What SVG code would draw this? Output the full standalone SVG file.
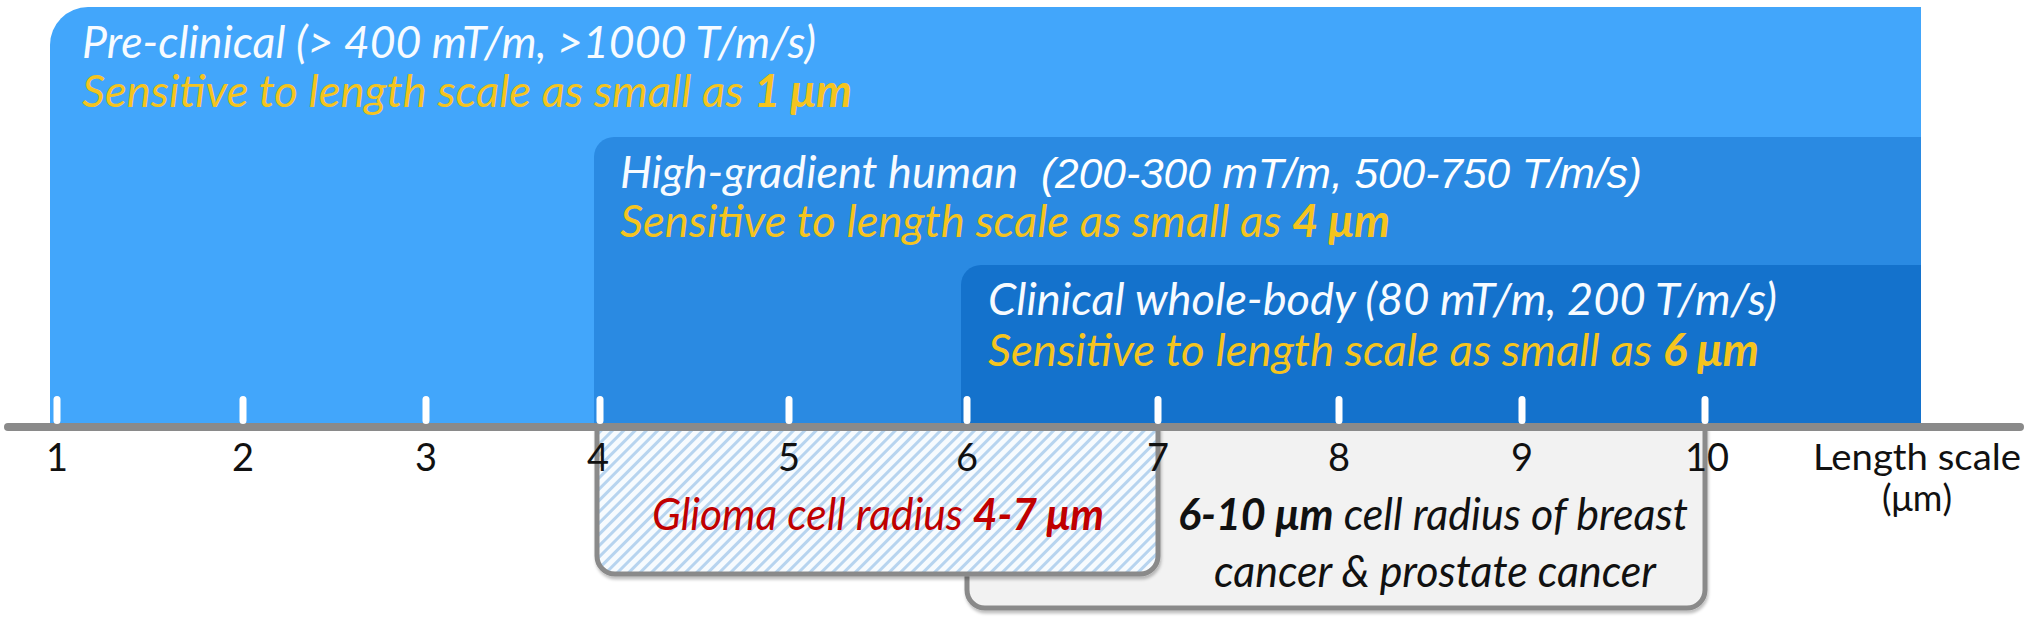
<svg xmlns="http://www.w3.org/2000/svg" width="2040" height="622" viewBox="0 0 2040 622">
  <defs>
    <pattern id="hatch" patternUnits="userSpaceOnUse" width="8" height="8" patternTransform="rotate(45)">
      <rect width="8" height="8" fill="#f7fbfe"/>
      <rect x="0" y="0" width="3" height="8" fill="#b7d4ef"/>
    </pattern>
    <filter id="sh" x="-5%" y="-5%" width="110%" height="115%">
      <feDropShadow dx="1" dy="3" stdDeviation="1.5" flood-color="#000" flood-opacity="0.25"/>
    </filter>
  </defs>
  <style>
    .gw { font-family: Lato, "Liberation Sans", sans-serif; font-style: italic; font-size: 45px; fill: #f7fbff; }
    .gy { font-family: Lato, "Liberation Sans", sans-serif; font-style: italic; font-size: 45px; fill: #f5c41e; }
    .ar { font-family: "Liberation Sans", Arial, sans-serif; font-style: italic; font-size: 42px; fill: #ffffff; }
    .b { font-weight: bold; }
    .num { font-family: Lato, "Liberation Sans", sans-serif; font-size: 38px; fill: #111; text-anchor: middle; }
    .lab { font-family: Lato, "Liberation Sans", sans-serif; font-size: 36px; fill: #111; text-anchor: middle; }
    .tick { fill: #ffffff; }
    .box { stroke: #8a8a8a; stroke-width: 5; }
    .red { font-family: Lato, "Liberation Sans", sans-serif; font-style: italic; font-size: 44px; fill: #c00000; }
    .blk { font-family: Lato, "Liberation Sans", sans-serif; font-style: italic; font-size: 44px; fill: #111; text-anchor: middle; }
  </style>

  <g id="preclinical">
    <path d="M50,424 V45 A38,38 0 0 1 88,7 H1921 V424 Z" fill="#42a6fb"/>
    <text class="gw" x="82" y="58" textLength="734" lengthAdjust="spacingAndGlyphs">Pre-clinical (&gt; 400 mT/m, &gt;1000 T/m/s)</text>
    <text class="gy" x="82" y="107" textLength="770" lengthAdjust="spacingAndGlyphs">Sensitive to length scale as small as <tspan class="b">1 μm</tspan></text>
  </g>

  <g id="highgradient">
    <path d="M594,424 V157 A20,20 0 0 1 614,137 H1921 V424 Z" fill="#2a8ae2"/>
    <text class="gw" x="620" y="188" textLength="398" lengthAdjust="spacingAndGlyphs">High-gradient human</text>
    <text class="ar" x="1041" y="188" textLength="601" lengthAdjust="spacingAndGlyphs">(200-300 mT/m, 500-750 T/m/s)</text>
    <text class="gy" x="620" y="237" textLength="770" lengthAdjust="spacingAndGlyphs">Sensitive to length scale as small as <tspan class="b">4 μm</tspan></text>
  </g>

  <g id="clinical">
    <path d="M961,424 V285 A20,20 0 0 1 981,265 H1921 V424 Z" fill="#1472cc"/>
    <text class="gw" x="988" y="315" font-size="44" textLength="789" lengthAdjust="spacingAndGlyphs">Clinical whole-body (80 mT/m, 200 T/m/s)</text>
    <text class="gy" x="988" y="366" textLength="771" lengthAdjust="spacingAndGlyphs">Sensitive to length scale as small as <tspan class="b">6 μm</tspan></text>
  </g>

  <g id="breast">
    <path class="box" d="M967,427 V590 A18,18 0 0 0 985,608 H1687 A18,18 0 0 0 1705,590 V427" fill="#f2f2f2" filter="url(#sh)"/>
    <text class="blk" x="1433" y="530" textLength="510" lengthAdjust="spacingAndGlyphs"><tspan class="b">6-10 μm</tspan> cell radius of breast</text>
    <text class="blk" x="1435" y="587" textLength="442" lengthAdjust="spacingAndGlyphs">cancer &amp; prostate cancer</text>
  </g>

  <g id="glioma">
    <path class="box" d="M597,427 V556 A18,18 0 0 0 615,574 H1140 A18,18 0 0 0 1158,556 V427" fill="url(#hatch)" filter="url(#sh)"/>
    <text class="red" x="652" y="530" textLength="452" lengthAdjust="spacingAndGlyphs">Glioma cell radius <tspan class="b">4-7 μm</tspan></text>
  </g>

  <g id="axis">
    <line x1="8" y1="427" x2="2020" y2="427" stroke="#8a8a8a" stroke-width="8" stroke-linecap="round"/>
    <g id="ticks">
      <rect class="tick" x="53.5" y="396" width="7" height="28" rx="3.5"/>
      <rect class="tick" x="239.5" y="396" width="7" height="28" rx="3.5"/>
      <rect class="tick" x="422.5" y="396" width="7" height="28" rx="3.5"/>
      <rect class="tick" x="596.5" y="396" width="7" height="28" rx="3.5"/>
      <rect class="tick" x="785.5" y="396" width="7" height="28" rx="3.5"/>
      <rect class="tick" x="963.5" y="396" width="7" height="28" rx="3.5"/>
      <rect class="tick" x="1154.5" y="396" width="7" height="28" rx="3.5"/>
      <rect class="tick" x="1335.5" y="396" width="7" height="28" rx="3.5"/>
      <rect class="tick" x="1518.5" y="396" width="7" height="28" rx="3.5"/>
      <rect class="tick" x="1701.5" y="396" width="7" height="28" rx="3.5"/>
    </g>
    <g id="labels">
      <text class="num" x="57" y="471">1</text>
      <text class="num" x="243" y="471">2</text>
      <text class="num" x="426" y="471">3</text>
      <text class="num" x="598" y="471">4</text>
      <text class="num" x="789" y="471">5</text>
      <text class="num" x="967" y="471">6</text>
      <text class="num" x="1158" y="471">7</text>
      <text class="num" x="1339" y="471">8</text>
      <text class="num" x="1522" y="471">9</text>
      <text class="num" x="1707" y="471">10</text>
      <text class="lab" x="1917" y="470" textLength="208" lengthAdjust="spacingAndGlyphs">Length scale</text>
      <text class="lab" x="1917" y="511">(μm)</text>
    </g>
  </g>
</svg>
